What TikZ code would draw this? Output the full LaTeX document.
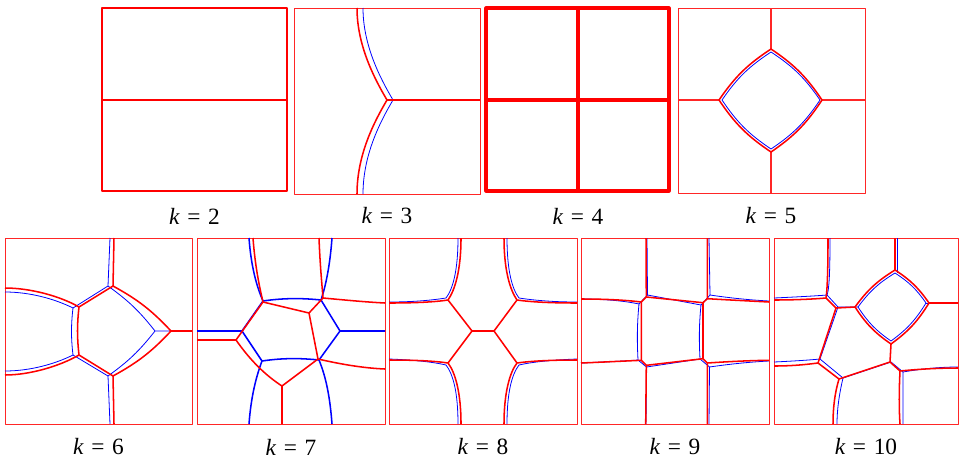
\documentclass[tikz,border=0pt]{standalone}
\usepackage{fontspec}
\setmainfont{Liberation Serif}
\usepackage{tikz}
\usetikzlibrary{positioning}
\usepackage{xcolor}
\newcommand{\klab}[1]{{\itshape k}\hspace{.33em}=\hspace{.33em}#1}

\begin{document}
\begin{tikzpicture}[x=0.75pt,y=-0.75pt,line join=round,
  frame/.style={draw=red!85,line width=0.75pt},
  rline/.style={draw=red,line width=1.15pt},
  bline/.style={draw=blue,line width=0.6pt},
  bthick/.style={draw=blue,line width=1.15pt},
  lab/.style={font=\fontsize{17.5}{20}\selectfont,inner sep=0pt}]
\useasboundingbox (0,0) rectangle (959,461);
\draw[draw=red,line width=1.4pt] (102,8) rectangle (287,191) (102,100) -- (287,100);
\draw[frame] (294,8) rectangle (480,194);
\draw[bline] (363,8) .. controls (363,45) and (380,78) .. (393,100) .. controls (380,122) and (363,155) .. (363,194);
\draw[rline] (357,8) .. controls (357,45) and (374,78) .. (387,100) .. controls (374,122) and (357,155) .. (357,194);
\draw[rline] (387,100) -- (480,100);
\draw[draw=red,line width=2.3pt] (486,8) rectangle (669,191) (578,8) -- (578,191) (486,100) -- (669,100);
\draw[frame] (678,8) rectangle (865,193);
\draw[frame,line width=0.95pt] (771,8) -- (771,49) (771,152) -- (771,193) (678,100) -- (719,100) (822,100) -- (865,100);
\draw[bline] (771,52) to[bend right=11] (722,100) to[bend right=11] (771,149) to[bend right=11] (820,100) to[bend right=11] cycle;
\draw[rline] (771,49) to[bend right=11] (719,100) to[bend right=11] (771,152) to[bend right=11] (822,100) to[bend right=11] cycle;
\node[lab] (k2) at (194.5,216) {\klab{2}};
\node[lab] (k3) at (387,216) {\klab{3}};
\node[lab] (k4) at (578,216) {\klab{4}};
\node[lab] (k5) at (771,216) {\klab{5}};

\draw[frame] (5,238) rectangle (192,424);
\draw[bline] (5,292) .. controls (30,292) and (55,299) .. (73,308) .. controls (71,325) and (71,338) .. (73,355);
\draw[bline] (5,371) .. controls (30,371) and (55,364) .. (73,355);
\draw[bline] (110,238) -- (108,286) -- (73,308) (73,355) -- (108,376) -- (110,424);
\draw[bline] (108,286) to[bend left=8] (155,331) to[bend left=8] (108,376) (155,331) -- (171,331);
\draw[rline] (5,288) .. controls (30,288) and (60,296) .. (79,307) .. controls (77,325) and (77,337) .. (79,355);
\draw[rline] (5,375) .. controls (30,375) and (60,366) .. (79,355);
\draw[rline] (114,238) -- (113,286) -- (79,307) (79,355) -- (113,376) -- (114,424);
\draw[rline] (113,286) to[bend left=9] (171,331) to[bend left=9] (113,376) (171,331) -- (192,331);

\draw[frame] (197,238) rectangle (385,424);
\draw[bthick] (249,238) .. controls (251,265) and (256,285) .. (263,301) .. controls (283,298) and (302,298) .. (321,300) .. controls (326,285) and (330,265) .. (332,238);
\draw[bthick] (249,424) .. controls (251,397) and (256,377) .. (262,361) .. controls (282,358) and (300,358) .. (319,360) .. controls (326,377) and (330,397) .. (332,424);
\draw[bthick] (263,301) -- (242,331) -- (262,361) (321,300) -- (340,331) -- (319,360) (197,331) -- (242,331) (340,331) -- (385,331);
\draw[rline] (253,238) .. controls (255,265) and (259,285) .. (263,302) -- (309,313) -- (323,298) .. controls (322,285) and (320,265) .. (319,238);
\draw[rline] (323,298) .. controls (345,300) and (365,302) .. (385,303);
\draw[rline] (197,340) -- (236,340) -- (263,302) (309,313) -- (318,359) -- (282,386) -- (282,424);
\draw[rline] (318,359) .. controls (340,364) and (362,368) .. (385,369);
\draw[rline] (236,340) .. controls (250,360) and (265,375) .. (282,386);

\draw[frame] (389,238) rectangle (577,424);
\draw[bline] (458,238) .. controls (458,270) and (453,289) .. (446,298) .. controls (433,300) and (415,302) .. (389,302);
\draw[bline] (507,238) .. controls (507,270) and (512,289) .. (519,298) .. controls (532,300) and (551,302) .. (577,302);
\draw[bline] (458,424) .. controls (458,392) and (453,374) .. (446,365) .. controls (433,362) and (415,360) .. (389,359);
\draw[bline] (507,424) .. controls (507,392) and (512,374) .. (519,365) .. controls (532,362) and (551,360) .. (577,359);
\draw[rline] (461,238) .. controls (461,270) and (455,290) .. (448,300) .. controls (435,302) and (415,303) .. (389,303);
\draw[rline] (504,238) .. controls (504,270) and (510,290) .. (517,300) .. controls (531,302) and (551,303) .. (577,303);
\draw[rline] (461,424) .. controls (461,392) and (455,372) .. (448,363) .. controls (435,361) and (415,360) .. (389,360);
\draw[rline] (504,424) .. controls (504,392) and (510,372) .. (517,363) .. controls (531,361) and (551,360) .. (577,360);
\draw[rline] (448,300) -- (472,331) -- (448,363) (517,300) -- (494,331) -- (517,363) (472,331) -- (494,331);

\draw[frame] (581,238) rectangle (769,424);
\draw[bline] (647,238) -- (647.5,295) -- (639,304) (581,299) .. controls (605,299) and (625,301) .. (639,304);
\draw[bline] (709,238) -- (710,295) -- (701,305) (710,295) .. controls (730,298) and (750,300) .. (769,301);
\draw[bline] (647.5,295) -- (701,305) (639,304) .. controls (637,325) and (637,340) .. (638,360) (701,305) .. controls (699,325) and (699,340) .. (700,359);
\draw[bline] (581,363) .. controls (605,362) and (625,361) .. (638,360) -- (646.5,367) -- (646,424) (646.5,367) -- (700,359) -- (709.5,367) -- (709,424);
\draw[bline] (709.5,367) .. controls (730,364) and (750,362) .. (769,361);
\draw[rline] (646,238) -- (646.3,297) -- (641.3,302) (581,299) .. controls (605,299) and (625,300) .. (641.3,302);
\draw[rline] (707.3,238) -- (707.3,298.7) -- (703,302.7) (707.3,298.7) .. controls (730,300) and (750,301) .. (769,302);
\draw[rline] (646.3,297) -- (703,302.7) -- (703,358.7) (641.3,302) -- (641.3,360.3);
\draw[rline] (581,363) .. controls (605,362) and (625,361) .. (641.3,360.3) -- (646.3,365.3) -- (645.7,424) (646.3,365.3) -- (703,358.7) -- (707.3,363) -- (707.3,424);
\draw[rline] (707.3,363) .. controls (730,361.5) and (750,360.5) .. (769,360.3);

\draw[frame] (774,238) rectangle (958,424);
\draw[bline] (895,273) to[bend right=11] (858,307) to[bend right=11] (891,341) to[bend right=11] (926,303) to[bend right=11] cycle;
\draw[bline] (897,238) -- (897,273) (926,303) -- (958,303);
\draw[bline] (830,238) .. controls (830,275) and (829,290) .. (827,295) .. controls (815,296) and (795,297) .. (774,298);
\draw[bline] (827,295) -- (838,307) -- (858,307) (838,307) -- (820,359) -- (843,378) -- (891,362) -- (903,372);
\draw[bline] (774,362) .. controls (795,361) and (810,360) .. (820,359);
\draw[bline] (903,372) .. controls (920,369) and (940,367) .. (958,367) (903,372) .. controls (903,390) and (903,410) .. (903,424);
\draw[bline] (843,378) .. controls (839,395) and (837,410) .. (837,424);
\draw[rline] (895,270) to[bend right=11] (855,307) to[bend right=11] (891,344) to[bend right=11] (929,303) to[bend right=11] cycle;
\draw[rline] (895,238) -- (895,270) (929,303) -- (958,303) (855,307) -- (836,308);
\draw[rline] (828,238) .. controls (828,275) and (827,292) .. (826,298) .. controls (815,299) and (795,300) .. (774,300);
\draw[rline] (826,298) -- (836,308) -- (818,363) -- (839,379) -- (890,362) -- (891,344) (890,362) -- (900,371);
\draw[rline] (774,366) .. controls (795,366) and (810,364) .. (818,363);
\draw[rline] (900,371) .. controls (920,369) and (940,368) .. (958,368) (900,371) .. controls (899,390) and (899,410) .. (900,424);
\draw[rline] (839,379) .. controls (835,392) and (833,407) .. (833,424);
\node[lab] (k6) at (98.5,447) {\klab{6}};
\node[lab] (k7) at (291,447) {\klab{7}};
\node[lab] (k8) at (483,447) {\klab{8}};
\node[lab] (k9) at (675,447) {\klab{9}};
\node[lab] (k10) at (866,447) {\klab{10}};
\end{tikzpicture}
\end{document}
